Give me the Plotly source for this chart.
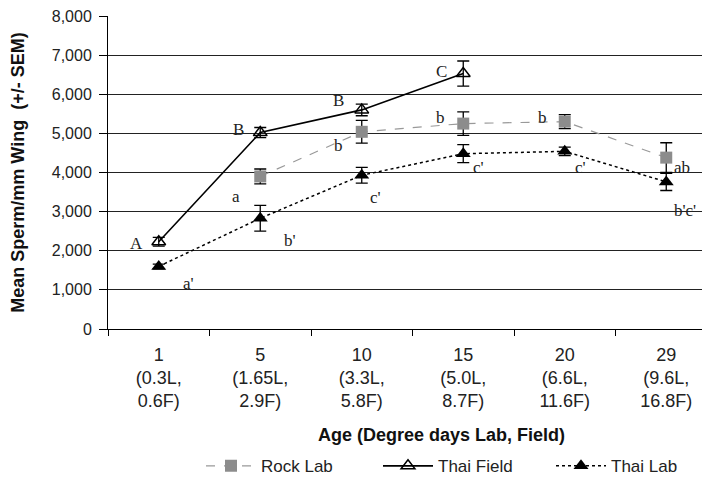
import plotly.graph_objects as go

categories = ["1", "5", "10", "15", "20", "29"]
tick_text = ["1<br>(0.3L,<br>0.6F)", "5<br>(1.65L,<br>2.9F)", "10<br>(3.3L,<br>5.8F)",
             "15<br>(5.0L,<br>8.7F)", "20<br>(6.6L,<br>11.6F)", "29<br>(9.6L,<br>16.8F)"]

rock_lab = [None, 3900, 5040, 5250, 5300, 4380]
rock_lab_sem = [0, 190, 290, 300, 180, 380]
rock_lab_letters = [None, "a", "b", "b", "b", "ab"]

thai_field = [2230, 5020, 5600, 6530, None, None]
thai_field_sem = [110, 130, 150, 320, 0, 0]
thai_field_letters = ["A", "B", "B", "C", None, None]

thai_lab = [1600, 2830, 3930, 4480, 4540, 3760]
thai_lab_sem = [60, 330, 200, 230, 110, 220]
thai_lab_letters = ["a'", "b'", "c'", "c'", "c'", "b'c'"]

# label offsets (pixels) relative to each point
rock_off = [None, (-24, -20), (-23, -14), (-23, 6), (-22, 4.5), (16, -10)]
field_off = [(-22, -1.5), (-22, 3.5), (-23, 9.6), (-22, 2), None, None]
lab_off = [(29.5, -16.6), (30, -22), (14, -22.5), (15, -14), (16, -16.6), (19, -29)]

# page body adds an 8px offset; layout designed in screen pixels
O = 8
W, H = 710, 479
L, T = 108 - O, 16 - O
PR, PB = 717 - O, 329.5 - O          # plot right / bottom in figure pixels
R, B = W - PR, H - PB
pw, ph = PR - L, PB - T

def px_x(p):
    return (p - O - L) / pw

def px_y(p):
    return (PB - (p - O)) / ph

fig = go.Figure()
fig.add_trace(go.Scatter(
    x=categories, y=rock_lab, name="Rock Lab", mode="lines+markers", legend="legend",
    line=dict(color="#999999", width=1.2, dash="dash"),
    marker=dict(symbol="square", size=12, color="#8c8c8c"),
    error_y=dict(type="data", array=rock_lab_sem, color="black", thickness=1.3, width=6),
    connectgaps=False))
fig.add_trace(go.Scatter(
    x=categories, y=thai_field, name="Thai Field", mode="lines+markers", legend="legend2",
    line=dict(color="black", width=1.6),
    marker=dict(symbol="triangle-up-open", size=12, color="black", line=dict(width=1.5)),
    error_y=dict(type="data", array=thai_field_sem, color="black", thickness=1.3, width=6)))
fig.add_trace(go.Scatter(
    x=categories, y=thai_lab, name="Thai Lab", mode="lines+markers", legend="legend3",
    line=dict(color="black", width=1.5, dash="dot"),
    marker=dict(symbol="triangle-up", size=13, color="black"),
    error_y=dict(type="data", array=thai_lab_sem, color="black", thickness=1.3, width=6)))

anns = []
for vals, letters, offs in [(rock_lab, rock_lab_letters, rock_off),
                            (thai_field, thai_field_letters, field_off),
                            (thai_lab, thai_lab_letters, lab_off)]:
    for i, (v, t, o) in enumerate(zip(vals, letters, offs)):
        if v is None or t is None:
            continue
        anns.append(dict(x=i, y=v, xref="x", yref="y", text=t, showarrow=False,
                         xshift=o[0], yshift=o[1],
                         font=dict(family="Liberation Serif", size=17, color="#222222")))

anns.append(dict(x=px_x(441), y=px_y(436), xref="paper", yref="paper",
                 xanchor="center", yanchor="middle",
                 text="<b>Age (Degree days Lab, Field)</b>", showarrow=False,
                 font=dict(family="Liberation Sans", size=18, color="#111111")))

leg_common = dict(orientation="h", xanchor="left", yanchor="middle", y=px_y(467),
                  font=dict(size=17, color="#222222"), bgcolor="rgba(0,0,0,0)",
                  borderwidth=0, itemwidth=50)

fig.update_layout(
    width=W, height=H,
    margin=dict(l=L, r=R, t=T, b=B, autoexpand=False),
    paper_bgcolor="white", plot_bgcolor="white",
    font=dict(family="Liberation Sans", size=16, color="#222222"),
    showlegend=True,
    legend=dict(x=px_x(201), **leg_common),
    legend2=dict(x=px_x(378), **leg_common),
    legend3=dict(x=px_x(551), **leg_common),
    annotations=anns,
)

fig.update_xaxes(type="category", categoryorder="array", categoryarray=categories,
                 tickmode="array", tickvals=categories, ticktext=tick_text,
                 tickson="boundaries", ticks="outside", ticklen=6, tickcolor="black",
                 showline=True, linecolor="black", linewidth=1, showgrid=False,
                 automargin=False, ticklabelstandoff=9, ticklabeloverflow="allow",
                 range=[-0.5, 5.5], tickfont=dict(size=18, color="#222222"))
fig.update_yaxes(range=[0, 8000], dtick=1000, tickformat=",", ticks="outside", ticklen=8,
                 tickcolor="black", showline=True, linecolor="black", linewidth=1,
                 showgrid=True, gridcolor="#222222", gridwidth=1, zeroline=False,
                 automargin=False, ticklabeloverflow="allow", ticklabelstandoff=4,
                 tickfont=dict(size=16, color="#222222"),
                 title=dict(text="<b>Mean Sperm/mm Wing  (+/- SEM)</b>", standoff=24,
                            font=dict(size=18, color="#111111")))

fig.write_html("out.html")
